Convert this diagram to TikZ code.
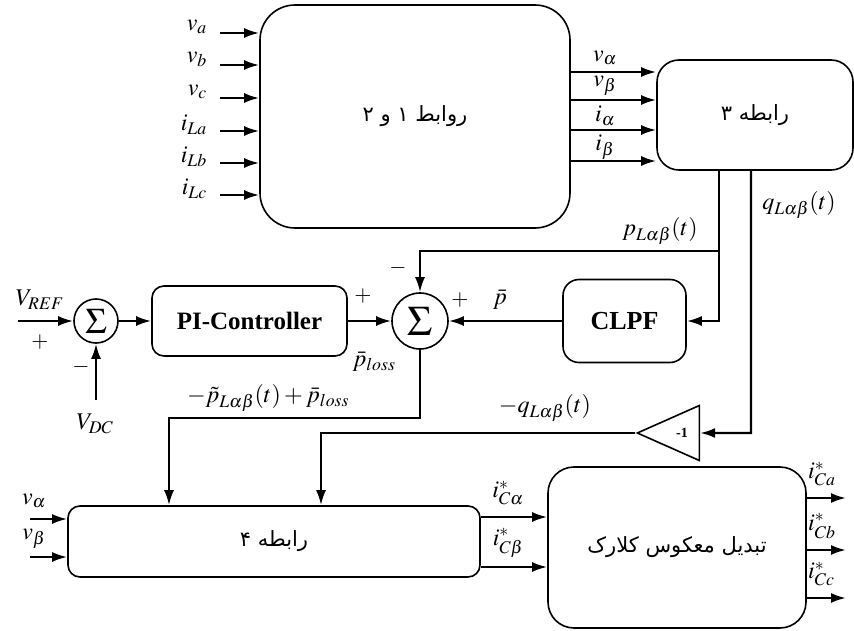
\documentclass[tikz,border=0pt]{standalone}
\usepackage{mathptmx}
\usepackage{fontspec}
\setmainfont{Liberation Serif}
\newfontfamily\fafont[Script=Arabic]{DejaVu Sans}
\TeXXeTstate=1
\usetikzlibrary{arrows.meta,positioning,shapes.geometric}

\begin{document}
\begin{tikzpicture}[
  x=1pt,y=-1pt,
  box/.style={draw,line width=1.6pt,rounded corners=14pt,inner sep=0pt,font=\fafont\fontsize{21}{24}\selectfont},
  sumnode/.style={circle,draw,line width=1.6pt,inner sep=0pt,font=\fontsize{42}{42}\selectfont},
  lbl/.style={inner sep=0pt,font=\fontsize{24}{26}\selectfont},
  sign/.style={inner sep=0pt,font=\fontsize{22}{24}\selectfont},
  arrow/.style={-{Latex[length=15pt,width=10pt]},line width=2.3pt}
]
\useasboundingbox (0,0) rectangle (854,631);

% blocks
\node[box,rounded corners=35pt,minimum width=310pt,minimum height=223pt] (rel12) at (415,116.5) {\beginR روابط ۱ و ۲\endR};
\node[box,rounded corners=22pt,minimum width=196pt,minimum height=110pt] (rel3) at (755,115) {\beginR رابطه ۳\endR};
\node[sumnode,minimum size=44pt,font=\fontsize{36}{36}\selectfont] (sum1) at (96,321) {$\Sigma$};
\node[box,rounded corners=12pt,minimum width=195pt,minimum height=70pt,font=\bfseries\fontsize{25}{28}\selectfont] (pi) at (249.5,321) {PI-Controller};
\node[sumnode,minimum size=56pt] (sum2) at (420,321) {$\Sigma$};
\node[box,rounded corners=16pt,minimum width=123pt,minimum height=83pt,font=\bfseries\fontsize{26}{28}\selectfont] (clpf) at (624.5,321) {CLPF};
\node[isosceles triangle,shape border rotate=180,draw,line width=1.6pt,isosceles triangle stretches,minimum width=55pt,minimum height=62pt,inner sep=0pt,font=\bfseries\fontsize{14}{15}\selectfont] (gain) at (682,433) {-1};
\node[box,rounded corners=12pt,minimum width=412pt,minimum height=71pt] (rel4) at (274,541.5) {\beginR رابطه ۴\endR};
\node[box,rounded corners=26pt,minimum width=258pt,minimum height=161pt] (clarke) at (677,547.5) {\beginR تبدیل معکوس کلارک\endR};

% inputs of the first block
\foreach \lab/\yy [count=\i] in {v_a/33,v_b/65,v_c/98,i_{La}/131,i_{Lb}/163,i_{Lc}/195}{
  \coordinate (in\i) at (220,\yy);
  \node[lbl,anchor=east] (lin\i) at (207,{\yy-6}) {$\lab$};
  \draw[arrow] (in\i) -- (in\i -| rel12.west);
}

% alpha-beta signals
\foreach \lab/\yy [count=\i] in {v_\alpha/72,v_\beta/100,i_\alpha/130,i_\beta/161}{
  \coordinate (ab\i) at (rel12.east |- 0,\yy);
  \draw[arrow] (ab\i) -- (ab\i -| rel3.west);
  \node[lbl] (lab\i) at (605,{\yy-14}) {$\lab$};
}

% p and q branches
\coordinate (pbr) at (719,251);
\coordinate (qbr) at (751,433);
\draw[arrow] (rel3.south -| pbr) -- (pbr) -| (sum2.north);
\draw[arrow] (pbr) |- (clpf.east);
\draw[arrow] (rel3.south -| qbr) -- (qbr) -- (gain.east);
\node[lbl] (lp) at (660,231) {$p_{L\alpha\beta}(t)$};
\node[lbl] (lq) at (799,205) {$q_{L\alpha\beta}(t)$};

% dc loop
\coordinate (vref) at (18,321);
\coordinate (vdc) at (96,400);
\draw[arrow] (vref) -- (sum1.west);
\draw[arrow] (vdc) -- (sum1.south);
\draw[arrow] (sum1.east) -- (pi.west);
\draw[arrow] (pi.east) -- (sum2.west);
\draw[arrow] (clpf.west) -- (sum2.east);
\node[lbl] (lvref) at (40,300) {$V_{REF}$};
\node[sign] (s1) at (40,342) {$+$};
\node[lbl] (lvdc) at (95,424) {$V_{DC}$};
\node[sign] (s2) at (81,367) {$-$};
\node[sign] (s3) at (363,296) {$+$};
\node[lbl] (lploss) at (374,362) {$\bar{p}_{loss}$};
\node[sign] (s4) at (398,268) {$-$};
\node[sign] (s5) at (460,300) {$+$};
\node[lbl] (lpbar) at (500,300) {$\bar{p}$};

% to the fourth block
\coordinate (pl) at (169,418);
\coordinate (ql) at (321,433);
\draw[arrow] (sum2.south) |- (pl) -- (rel4.north -| pl);
\draw[arrow] (gain.apex) -- (ql) -- (rel4.north -| ql);
\node[lbl] (lsum) at (268,398) {$-\tilde{p}_{L\alpha\beta}(t)+\bar{p}_{loss}$};
\node[lbl] (lmq) at (545,408) {$-q_{L\alpha\beta}(t)$};

\foreach \lab/\yy [count=\i] in {v_\alpha/519,v_\beta/557}{
  \coordinate (rin\i) at (30,\yy);
  \draw[arrow] (rin\i) -- (rin\i -| rel4.west);
  \node[lbl] (lrin\i) at (34,{\yy-18}) {$\lab$};
}

\foreach \lab/\yy [count=\i] in {i^*_{C\alpha}/517,i^*_{C\beta}/567}{
  \coordinate (mo\i) at (rel4.east |- 0,\yy);
  \draw[arrow] (mo\i) -- (mo\i -| clarke.west);
  \node[lbl] (lmo\i) at (508,{\yy-24}) {$\lab$};
}

% outputs
\foreach \lab/\yy [count=\i] in {i^*_{Ca}/498,i^*_{Cb}/550,i^*_{Cc}/598}{
  \coordinate (out\i) at (846,\yy);
  \draw[arrow] (clarke.east |- out\i) -- (out\i);
  \node[lbl,anchor=west] (lout\i) at (808,{\yy-24}) {$\lab$};
}
\end{tikzpicture}
\end{document}
